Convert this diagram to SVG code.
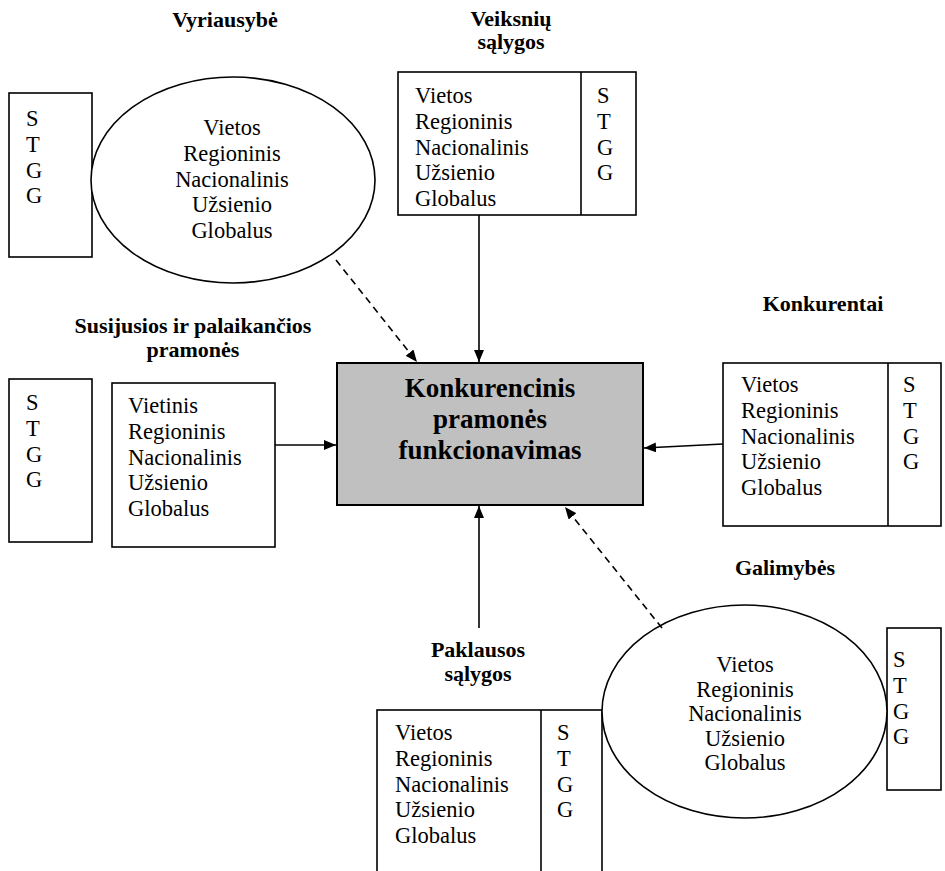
<svg xmlns="http://www.w3.org/2000/svg" width="945" height="871" viewBox="0 0 945 871">
  <style>
    .box { fill: #ffffff; stroke: #000000; stroke-width: 1.6; }
    .core { fill: #c0c0c0; stroke: #000000; stroke-width: 2; }
    .t { font-family: "Liberation Serif", "Times New Roman", serif; font-size: 22.5px; fill: #000000; }
    .h { font-family: "Liberation Serif", "Times New Roman", serif; font-size: 22px; font-weight: bold; fill: #000000; text-anchor: middle; }
    .c { font-family: "Liberation Serif", "Times New Roman", serif; font-size: 27px; font-weight: bold; fill: #000000; text-anchor: middle; }
    .mid { text-anchor: middle; }
    .solid { stroke: #000000; stroke-width: 1.6; fill: none; }
    .dash { stroke: #000000; stroke-width: 1.6; fill: none; stroke-dasharray: 7 5; }
  </style>
  <defs>
    <marker id="head" viewBox="0 0 12 10" refX="12" refY="5" markerWidth="12" markerHeight="10" markerUnits="userSpaceOnUse" orient="auto">
      <path d="M0,0 L12,5 L0,10 Z" fill="#000000"/>
    </marker>
  </defs>

  <!-- Government -->
  <g id="vyriausybe">
    <text class="h" x="225" y="27">Vyriausybė</text>
    <rect class="box" x="9" y="93" width="83" height="164"/>
    <text class="t" x="26" y="126">S</text>
    <text class="t" x="26" y="151.8">T</text>
    <text class="t" x="26" y="177.6">G</text>
    <text class="t" x="26" y="203.4">G</text>
    <ellipse class="box" cx="233" cy="180" rx="142" ry="103"/>
    <text class="t mid" x="232" y="135">Vietos</text>
    <text class="t mid" x="232" y="160.8">Regioninis</text>
    <text class="t mid" x="232" y="186.6">Nacionalinis</text>
    <text class="t mid" x="232" y="212.4">Užsienio</text>
    <text class="t mid" x="232" y="238.2">Globalus</text>
  </g>

  <!-- Factor conditions -->
  <g id="veiksniu-salygos">
    <text class="h" x="511" y="26">Veiksnių</text>
    <text class="h" x="511" y="49">sąlygos</text>
    <rect class="box" x="398" y="72" width="238" height="143"/>
    <line class="solid" x1="581" y1="72" x2="581" y2="215"/>
    <text class="t" x="415" y="103">Vietos</text>
    <text class="t" x="415" y="128.8">Regioninis</text>
    <text class="t" x="415" y="154.6">Nacionalinis</text>
    <text class="t" x="415" y="180.4">Užsienio</text>
    <text class="t" x="415" y="206.2">Globalus</text>
    <text class="t" x="597" y="103">S</text>
    <text class="t" x="597" y="128.8">T</text>
    <text class="t" x="597" y="154.6">G</text>
    <text class="t" x="597" y="180.4">G</text>
  </g>

  <!-- Related and supporting industries -->
  <g id="susijusios-pramones">
    <text class="h" x="193" y="333">Susijusios ir palaikančios</text>
    <text class="h" x="193" y="357">pramonės</text>
    <rect class="box" x="9" y="379" width="83" height="163"/>
    <text class="t" x="26" y="410">S</text>
    <text class="t" x="26" y="435.8">T</text>
    <text class="t" x="26" y="461.6">G</text>
    <text class="t" x="26" y="487.4">G</text>
    <rect class="box" x="112" y="383" width="163" height="164"/>
    <text class="t" x="128" y="413">Vietinis</text>
    <text class="t" x="128" y="438.8">Regioninis</text>
    <text class="t" x="128" y="464.6">Nacionalinis</text>
    <text class="t" x="128" y="490.4">Užsienio</text>
    <text class="t" x="128" y="516.2">Globalus</text>
  </g>

  <!-- Central node -->
  <g id="konkurencinis-funkcionavimas">
    <rect class="core" x="337" y="363" width="306" height="142"/>
    <text class="c" x="490" y="397">Konkurencinis</text>
    <text class="c" x="490" y="428">pramonės</text>
    <text class="c" x="490" y="459">funkcionavimas</text>
  </g>

  <!-- Competitors -->
  <g id="konkurentai">
    <text class="h" x="823" y="311">Konkurentai</text>
    <rect class="box" x="723" y="363" width="218" height="163"/>
    <line class="solid" x1="888" y1="363" x2="888" y2="526"/>
    <text class="t" x="741" y="392">Vietos</text>
    <text class="t" x="741" y="417.8">Regioninis</text>
    <text class="t" x="741" y="443.6">Nacionalinis</text>
    <text class="t" x="741" y="469.4">Užsienio</text>
    <text class="t" x="741" y="495.2">Globalus</text>
    <text class="t" x="903" y="392">S</text>
    <text class="t" x="903" y="417.8">T</text>
    <text class="t" x="903" y="443.6">G</text>
    <text class="t" x="903" y="469.4">G</text>
  </g>

  <!-- Demand conditions -->
  <g id="paklausos-salygos">
    <text class="h" x="478" y="657">Paklausos</text>
    <text class="h" x="478" y="681">sąlygos</text>
    <rect class="box" x="377" y="710" width="225" height="175"/>
    <line class="solid" x1="541" y1="710" x2="541" y2="871"/>
    <text class="t" x="395" y="740">Vietos</text>
    <text class="t" x="395" y="765.8">Regioninis</text>
    <text class="t" x="395" y="791.6">Nacionalinis</text>
    <text class="t" x="395" y="817.4">Užsienio</text>
    <text class="t" x="395" y="843.2">Globalus</text>
    <text class="t" x="557" y="740">S</text>
    <text class="t" x="557" y="765.8">T</text>
    <text class="t" x="557" y="791.6">G</text>
    <text class="t" x="557" y="817.4">G</text>
  </g>

  <!-- Chance -->
  <g id="galimybes">
    <text class="h" x="785" y="575">Galimybės</text>
    <rect class="box" x="887" y="628" width="54" height="162"/>
    <text class="t" x="893" y="667">S</text>
    <text class="t" x="893" y="692.8">T</text>
    <text class="t" x="893" y="718.6">G</text>
    <text class="t" x="893" y="744.4">G</text>
    <ellipse class="box" cx="744.5" cy="711.5" rx="142.5" ry="106.5"/>
    <text class="t mid" x="745" y="672">Vietos</text>
    <text class="t mid" x="745" y="696.5">Regioninis</text>
    <text class="t mid" x="745" y="721">Nacionalinis</text>
    <text class="t mid" x="745" y="745.5">Užsienio</text>
    <text class="t mid" x="745" y="770">Globalus</text>
  </g>

  <!-- Influence arrows into the central node -->
  <g id="connectors">
    <line class="dash" x1="336" y1="260" x2="417" y2="362" marker-end="url(#head)"/>
    <line class="solid" x1="479" y1="215" x2="479" y2="362" marker-end="url(#head)"/>
    <line class="solid" x1="275" y1="445" x2="336" y2="445" marker-end="url(#head)"/>
    <line class="solid" x1="723" y1="444" x2="644" y2="448" marker-end="url(#head)"/>
    <line class="solid" x1="479" y1="628" x2="479" y2="506" marker-end="url(#head)"/>
    <line class="dash" x1="662" y1="628" x2="565" y2="507" marker-end="url(#head)"/>
  </g>
</svg>
